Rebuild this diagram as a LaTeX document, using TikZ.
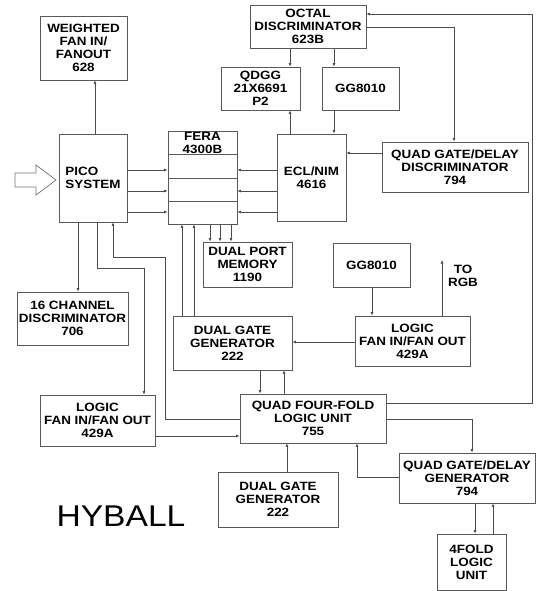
\documentclass[tikz,border=0pt]{standalone}
\usepackage{fontspec}
\newfontfamily\diafont{Liberation Sans}[FakeStretch=1.12]
\usetikzlibrary{arrows.meta}

\begin{document}
\begin{tikzpicture}[x=1pt,y=-1pt,
    unit/.style={draw=black!65, line width=0.8pt, rectangle, align=center, inner sep=1pt,
      font={\diafont\bfseries\fontsize{12}{13}\selectfont}},
    wire/.style={draw=black!70, line width=0.7pt, -{Latex[length=3.5pt,width=3pt]}}]
        \useasboundingbox (0,0) rectangle (536,591);
        % modules
        \node[unit, minimum width=87pt, minimum height=64pt] (Wfan) at (83.5,48) {WEIGHTED\\FAN IN/\\FANOUT\\628};
        \node[unit, minimum width=68pt, minimum height=88pt, align=left] (Pico) at (93,178) {PICO\\SYSTEM};
        \node[unit, minimum width=116pt, minimum height=43pt] (Octal) at (308,26.5) {OCTAL\\DISCRIMINATOR\\623B};
        \node[unit, minimum width=79pt, minimum height=43pt] (Qdgg) at (260.5,88.5) {QDGG\\21X6691\\P2};
        \node[unit, minimum width=77pt, minimum height=43pt] (GgTop) at (360.5,88.5) {GG8010};
        \node[unit, minimum width=69pt, minimum height=93pt] (Fera) at (202.5,177.5) {};
        \node[font={\diafont\bfseries\fontsize{12}{13}\selectfont}, align=center, inner sep=0pt] (FeraLbl) at (202.5,142.5) {FERA\\4300B};
        \node[unit, minimum width=69pt, minimum height=87pt] (Ecl) at (311.5,177.5) {ECL/NIM\\4616};
        \node[unit, minimum width=146pt, minimum height=50pt] (Qgdd) at (455,167) {QUAD GATE/DELAY\\DISCRIMINATOR\\794};
        \node[unit, minimum width=89pt, minimum height=45pt] (Dpm) at (247.5,264.5) {DUAL PORT\\MEMORY\\1190};
        \node[unit, minimum width=111pt, minimum height=53pt] (Ch16) at (72.5,318.5) {16 CHANNEL\\DISCRIMINATOR\\706};
        \node[unit, minimum width=119pt, minimum height=54pt] (DggMid) at (232.5,343) {DUAL GATE\\GENERATOR\\222};
        \node[unit, minimum width=77pt, minimum height=44pt] (GgRight) at (371.5,265) {GG8010};
        \node[unit, minimum width=115pt, minimum height=50pt] (LfRight) at (412.5,341) {LOGIC\\FAN IN/FAN OUT\\429A};
        \node[unit, minimum width=115pt, minimum height=51pt] (LfLeft) at (97.5,420.5) {LOGIC\\FAN IN/FAN OUT\\429A};
        \node[unit, minimum width=146pt, minimum height=49pt] (Qff) at (313,418.5) {QUAD FOUR-FOLD\\LOGIC UNIT\\755};
        \node[unit, minimum width=136pt, minimum height=50pt] (Qgdg) at (467,478) {QUAD GATE/DELAY\\GENERATOR\\794};
        \node[unit, minimum width=120pt, minimum height=55pt] (DggBot) at (278,499.5) {DUAL GATE\\GENERATOR\\222};
        \node[unit, minimum width=69pt, minimum height=56pt] (Fold4) at (471.5,562) {4FOLD\\LOGIC\\UNIT};
        \node[font={\diafont\bfseries\fontsize{12}{13}\selectfont}, align=center] (ToRgb) at (463,276) {TO\\RGB};
        \node[font={\diafont\fontsize{30}{32}\selectfont}] (Title) at (121,516) {HYBALL};
        \coordinate (RgbEnd) at (442,260);

        % FERA rows
        \foreach \y in {154,178,201}
            \draw[black!65, line width=0.8pt] (Fera.west |- 0,\y) -- (Fera.east |- 0,\y);

        % input arrow
        \draw[black!55, line width=0.7pt] (15,173) -- (36,173) -- (36,165) -- (56,180)
            -- (36,195) -- (36,187) -- (15,187) -- cycle;

        % connections
        \foreach \y in {170,191,212} {
            \path[wire] (Pico.east |- 0,\y) -- (Fera.west |- 0,\y);
            \path[wire] (Ecl.west |- 0,\y) -- (Fera.east |- 0,\y);
        }
        \foreach \x in {210,220,231}
            \path[wire] (Fera.south -| \x,0) -- (Dpm.north -| \x,0);
        \foreach \x in {182,194}
            \path[wire] (DggMid.north -| \x,0) -- (Fera.south -| \x,0);
        \path[wire] (Pico.north -| 95,0) -- (Wfan.south -| 95,0);
        \path[wire] (Pico.south -| 78,0) -- (Ch16.north -| 78,0);
        \path[wire] (Pico.south -| 97,0) |- (144,268) -- (LfLeft.north -| 144,0);
        \path[wire] (Qff.west |- 0,419) -| (165,257) -| (Pico.south -| 113,0);
        \path[wire] (LfLeft.east |- 0,436) -- (Qff.west |- 0,436);
        \path[wire] (Octal.south -| 290,0) -- (Qdgg.north -| 290,0);
        \path[wire] (Octal.south -| 334,0) -- (GgTop.north -| 334,0);
        \path[wire] (Ecl.north -| 290,0) -- (Qdgg.south -| 290,0);
        \path[wire] (GgTop.south -| 334,0) -- (Ecl.north -| 334,0);
        \path[wire] (Octal.east |- 0,27) -| (Qgdd.north -| 454,0);
        \path[wire] (Qgdd.west |- 0,153) -- (Ecl.east |- 0,153);
        \path[wire] (Qff.east |- 0,403) -| (532,14) -- (Octal.east |- 0,14);
        \path[wire] (GgRight.south -| 372,0) -- (LfRight.north -| 372,0);
        \path[wire] (LfRight.west |- 0,342) -- (DggMid.east |- 0,342);
        \path[wire] (LfRight.north -| RgbEnd) -- (RgbEnd);
        \path[wire] (DggMid.south -| 260,0) -- (Qff.north -| 260,0);
        \path[wire] (Qff.north -| 284,0) -- (DggMid.south -| 284,0);
        \path[wire] (Qff.east |- 0,419) -| (Qgdg.north -| 472,0);
        \path[wire] (Qgdg.west |- 0,477) -| (Qff.south -| 357,0);
        \path[wire] (DggBot.north -| 287,0) -- (Qff.south -| 287,0);
        \path[wire] (Qgdg.south -| 475,0) -- (Fold4.north -| 475,0);
        \path[wire] (Fold4.north -| 493,0) -- (Qgdg.south -| 493,0);
\end{tikzpicture}
\end{document}
